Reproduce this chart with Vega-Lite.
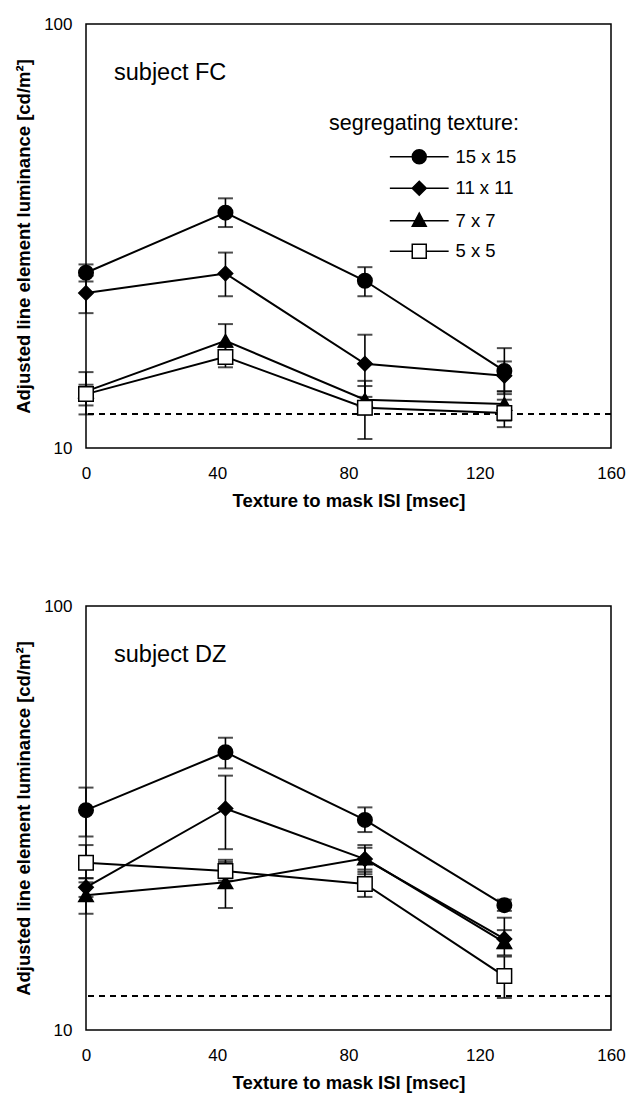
{
  "$schema": "https://vega.github.io/schema/vega-lite/v6.json",
  "background": "white",
  "padding": {"left": 13, "top": 14, "right": 0, "bottom": 0},
  "spacing": 85,
  "datasets": {
    "fc": [
      {"isi": 0, "lum": 25.9, "lo": 24.7, "hi": 27.1, "texture": "15 x 15"},
      {"isi": 42.5, "lum": 35.9, "lo": 33.2, "hi": 38.8, "texture": "15 x 15"},
      {"isi": 85, "lum": 24.8, "lo": 22.8, "hi": 26.7, "texture": "15 x 15"},
      {"isi": 127.5, "lum": 15.2, "lo": 13.4, "hi": 17.2, "texture": "15 x 15"},
      {"isi": 0, "lum": 23.2, "lo": 20.8, "hi": 25.5, "texture": "11 x 11"},
      {"isi": 42.5, "lum": 25.8, "lo": 22.8, "hi": 28.9, "texture": "11 x 11"},
      {"isi": 85, "lum": 15.8, "lo": 13.2, "hi": 18.5, "texture": "11 x 11"},
      {"isi": 127.5, "lum": 14.8, "lo": 13.6, "hi": 16.0, "texture": "11 x 11"},
      {"isi": 0, "lum": 13.6, "lo": 12.0, "hi": 15.1, "texture": "7 x 7"},
      {"isi": 42.5, "lum": 17.9, "lo": 16.3, "hi": 19.6, "texture": "7 x 7"},
      {"isi": 85, "lum": 13.0, "lo": 12.0, "hi": 14.0, "texture": "7 x 7"},
      {"isi": 127.5, "lum": 12.7, "lo": 11.6, "hi": 13.6, "texture": "7 x 7"},
      {"isi": 0, "lum": 13.4, "lo": 12.6, "hi": 14.1, "texture": "5 x 5"},
      {"isi": 42.5, "lum": 16.4, "lo": 15.5, "hi": 17.3, "texture": "5 x 5"},
      {"isi": 85, "lum": 12.45, "lo": 10.5, "hi": 14.4, "texture": "5 x 5"},
      {"isi": 127.5, "lum": 12.1, "lo": 11.2, "hi": 13.0, "texture": "5 x 5"}
    ],
    "dz": [
      {"isi": 0, "lum": 33.0, "lo": 28.6, "hi": 37.3, "texture": "15 x 15"},
      {"isi": 42.5, "lum": 45.2, "lo": 41.4, "hi": 48.9, "texture": "15 x 15"},
      {"isi": 85, "lum": 31.3, "lo": 29.3, "hi": 33.5, "texture": "15 x 15"},
      {"isi": 127.5, "lum": 19.7, "lo": 19.1, "hi": 20.3, "texture": "15 x 15"},
      {"isi": 0, "lum": 21.7, "lo": 20.6, "hi": 22.8, "texture": "11 x 11"},
      {"isi": 42.5, "lum": 33.3, "lo": 26.7, "hi": 39.8, "texture": "11 x 11"},
      {"isi": 85, "lum": 25.3, "lo": 23.3, "hi": 27.3, "texture": "11 x 11"},
      {"isi": 127.5, "lum": 16.4, "lo": 15.6, "hi": 18.4, "texture": "11 x 11"},
      {"isi": 0, "lum": 20.8, "lo": 18.8, "hi": 22.8, "texture": "7 x 7"},
      {"isi": 42.5, "lum": 22.3, "lo": 19.4, "hi": 25.2, "texture": "7 x 7"},
      {"isi": 85, "lum": 25.4, "lo": 23.9, "hi": 26.9, "texture": "7 x 7"},
      {"isi": 127.5, "lum": 16.1, "lo": 15.0, "hi": 17.2, "texture": "7 x 7"},
      {"isi": 0, "lum": 24.8, "lo": 22.3, "hi": 27.3, "texture": "5 x 5"},
      {"isi": 42.5, "lum": 23.7, "lo": 22.5, "hi": 24.9, "texture": "5 x 5"},
      {"isi": 85, "lum": 22.1, "lo": 20.6, "hi": 23.6, "texture": "5 x 5"},
      {"isi": 127.5, "lum": 13.4, "lo": 11.9, "hi": 14.9, "texture": "5 x 5"}
    ]
  },
  "vconcat": [
    {
      "width": 525,
      "height": 424,
      "title": {"text": "subject FC", "orient": "top", "anchor": "start", "frame": "group", "offset": -88, "baseline": "alphabetic", "dx": 28, "fontSize": 23.5, "fontWeight": "normal", "font": "Liberation Sans", "color": "black"},
      "data": {"name": "fc"},
      "encoding": {
        "x": {"field": "isi", "type": "quantitative", "scale": {"domain": [0, 160], "nice": false}, "axis": {"values": [0, 40, 80, 120, 160], "title": "Texture to mask ISI [msec]"}},
        "y": {"field": "lum", "type": "quantitative", "scale": {"type": "log", "domain": [10, 100], "nice": false}, "axis": {"values": [10, 100], "format": "d", "title": "Adjusted line element luminance [cd/m²]"}}
      },
      "layer": [
        {"mark": {"type": "rule", "strokeDash": [6, 5], "strokeWidth": 1.3, "color": "black"}, "encoding": {"x": null, "y": {"datum": 12}}},
        {"mark": {"type": "line", "color": "black", "strokeWidth": 2}, "encoding": {"detail": {"field": "texture"}}},
        {"mark": {"type": "rule", "color": "black", "strokeWidth": 1.6}, "encoding": {"y": {"field": "lo", "type": "quantitative"}, "y2": {"field": "hi"}}},
        {"mark": {"type": "tick", "orient": "horizontal", "color": "black", "size": 15, "thickness": 2}, "encoding": {"y": {"field": "lo", "type": "quantitative"}}},
        {"mark": {"type": "tick", "orient": "horizontal", "color": "black", "size": 15, "thickness": 2}, "encoding": {"y": {"field": "hi", "type": "quantitative"}}},
        {
          "mark": {"type": "point", "filled": true, "stroke": "black", "strokeWidth": 1.5, "size": 210, "opacity": 1},
          "encoding": {
            "shape": {"field": "texture", "type": "nominal", "scale": {"domain": ["15 x 15", "11 x 11", "7 x 7", "5 x 5"], "range": ["circle", "diamond", "triangle-up", "square"]}, "legend": null},
            "fill": {"field": "texture", "type": "nominal", "scale": {"domain": ["15 x 15", "11 x 11", "7 x 7", "5 x 5"], "range": ["black", "black", "black", "white"]}, "legend": null}
          }
        },
        {
          "transform": [{"filter": "datum.isi < 0"}],
          "mark": {"type": "point", "filled": true, "stroke": "black", "strokeWidth": 1.5, "size": 196, "opacity": 1},
          "encoding": {
            "shape": {"field": "texture", "type": "nominal",
              "scale": {"domain": ["15 x 15", "11 x 11", "7 x 7", "5 x 5"], "range": [
                "M-4.2,0H-1M1,0H4.2M1,0A1,1 0 1,1 -1,0A1,1 0 1,1 1,0Z",
                "M-4.2,0H-1M1,0H4.2M0,-1L1,0L0,1L-1,0Z",
                "M-4.2,0H-0.6M0.6,0H4.2M0,-1.1L1,0.8L-1,0.8Z",
                "M-4.2,0H-1M1,0H4.2M-1,-1H1V1H-1Z"]},
              "legend": {
                "title": "segregating texture:", "orient": "none", "legendX": 243, "legendY": 89, "padding": 0,
                "symbolSize": 196, "symbolOffset": 81,
                "rowPadding": 10.5, "titlePadding": 13, "labelOffset": 27, "titleLimit": 400,
                "titleFont": "Liberation Sans", "titleFontSize": 21.5, "titleFontWeight": "normal", "titleColor": "black",
                "labelFont": "Liberation Sans", "labelFontSize": 18.5, "labelColor": "black"
              }},
            "fill": {"field": "texture", "type": "nominal", "scale": {"domain": ["15 x 15", "11 x 11", "7 x 7", "5 x 5"], "range": ["black", "black", "black", "white"]}, "legend": null},
            "stroke": {"value": "black"},
            "strokeWidth": {"value": 1.5}
          }
        }
      ],
      "resolve": {"scale": {"shape": "independent", "fill": "independent"}}
    },
    {
      "width": 525,
      "height": 424,
      "title": {"text": "subject DZ", "orient": "top", "anchor": "start", "frame": "group", "offset": -88, "baseline": "alphabetic", "dx": 28, "fontSize": 23.5, "fontWeight": "normal", "font": "Liberation Sans", "color": "black"},
      "data": {"name": "dz"},
      "encoding": {
        "x": {"field": "isi", "type": "quantitative", "scale": {"domain": [0, 160], "nice": false}, "axis": {"values": [0, 40, 80, 120, 160], "title": "Texture to mask ISI [msec]"}},
        "y": {"field": "lum", "type": "quantitative", "scale": {"type": "log", "domain": [10, 100], "nice": false}, "axis": {"values": [10, 100], "format": "d", "title": "Adjusted line element luminance [cd/m²]"}}
      },
      "layer": [
        {"mark": {"type": "rule", "strokeDash": [6, 5], "strokeWidth": 1.3, "color": "black"}, "encoding": {"x": null, "y": {"datum": 12}}},
        {"mark": {"type": "line", "color": "black", "strokeWidth": 2}, "encoding": {"detail": {"field": "texture"}}},
        {"mark": {"type": "rule", "color": "black", "strokeWidth": 1.6}, "encoding": {"y": {"field": "lo", "type": "quantitative"}, "y2": {"field": "hi"}}},
        {"mark": {"type": "tick", "orient": "horizontal", "color": "black", "size": 15, "thickness": 2}, "encoding": {"y": {"field": "lo", "type": "quantitative"}}},
        {"mark": {"type": "tick", "orient": "horizontal", "color": "black", "size": 15, "thickness": 2}, "encoding": {"y": {"field": "hi", "type": "quantitative"}}},
        {
          "mark": {"type": "point", "filled": true, "stroke": "black", "strokeWidth": 1.5, "size": 210, "opacity": 1},
          "encoding": {
            "shape": {"field": "texture", "type": "nominal", "scale": {"domain": ["15 x 15", "11 x 11", "7 x 7", "5 x 5"], "range": ["circle", "diamond", "triangle-up", "square"]}, "legend": null},
            "fill": {"field": "texture", "type": "nominal", "scale": {"domain": ["15 x 15", "11 x 11", "7 x 7", "5 x 5"], "range": ["black", "black", "black", "white"]}, "legend": null}
          }
        }
      ]
    }
  ],
  "resolve": {"scale": {"shape": "independent", "fill": "independent"}, "legend": {"shape": "independent", "fill": "independent"}},
  "config": {
    "view": {"stroke": "black", "strokeWidth": 1.5},
    "axis": {
      "domain": false, "grid": false, "ticks": false, "tickSize": 0,
      "labelFont": "Liberation Sans", "labelFontSize": 17, "labelColor": "black", "labelFlush": false, "labelOverlap": false,
      "titleFont": "Liberation Sans", "titleFontSize": 18.5, "titleFontWeight": "bold", "titleColor": "black"
    },
    "axisX": {"labelPadding": 17, "titlePadding": 10, "titleFontSize": 18.5},
    "axisY": {"labelPadding": 14, "titlePadding": 10}
  }
}
